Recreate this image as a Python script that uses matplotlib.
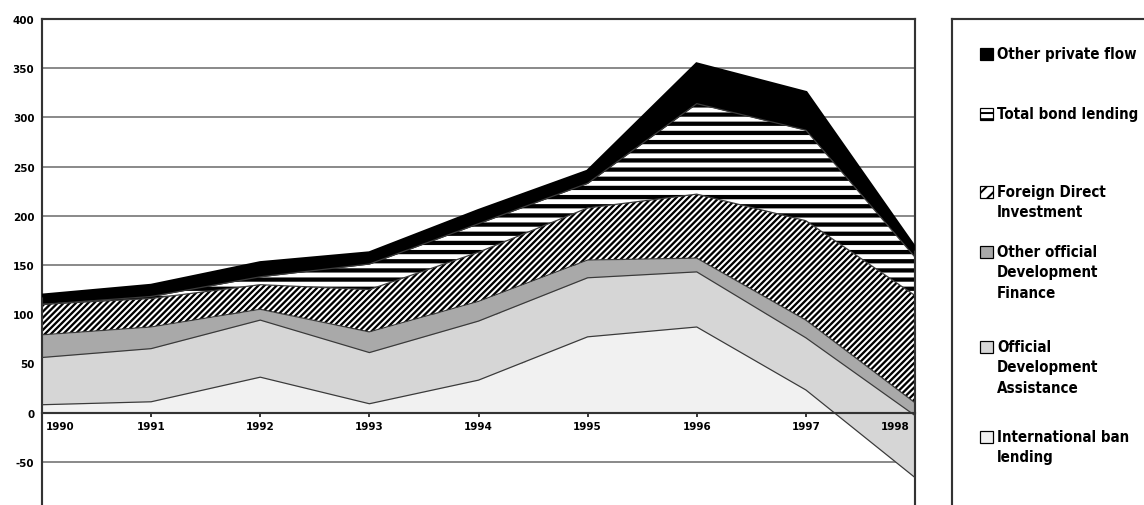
import numpy as np
import matplotlib
matplotlib.use("Agg")
import matplotlib.pyplot as plt
from matplotlib.patches import Rectangle
from matplotlib.transforms import offset_copy

# ── Data (billions) ─────────────────────────────────────────────────────────
years = [1990, 1991, 1992, 1993, 1994, 1995, 1996, 1997, 1998]
bank_lending = [8, 11, 36, 9, 33, 77, 87, 23, -66]
oda = [48, 54, 58, 52, 60, 60, 56, 53, 63]
other_official = [23, 22, 11, 21, 20, 18, 14, 18, 13]
fdi = [31, 29, 25, 43, 50, 53, 65, 101, 109]
bond_lending = [0, 2, 8, 26, 29, 25, 92, 92, 39]
other_private = [9, 11, 14, 11, 13, 12, 40, 38, 9]

series_names = ["International ban\nlending",
                "Official\nDevelopment\nAssistance",
                "Other official\nDevelopment\nFinance",
                "Foreign Direct\nInvestment",
                "Total bond lending",
                "Other private flow"]
y_ticks = [-100, -50, 0, 50, 100, 150, 200, 250, 300, 350, 400]

# fill colour, hatch, hatch line width for each layer (bottom to top)
STYLES = [("#f1f1f1", None, 1.0),
          ("#d6d6d6", None, 1.0),
          ("#a9a9a9", None, 1.0),
          ("white", "//////", 1.5),
          ("white", "--", 2.8),
          ("black", None, 1.0)]

FONT = "DejaVu Sans"
W, H, DPI = 1144, 506, 110
plt.rcParams["hatch.color"] = "black"


def set_hatch_lw(artist, lw):
    plt.rcParams["hatch.linewidth"] = lw
    if hasattr(artist, "set_hatch_linewidth"):
        artist.set_hatch_linewidth(lw)


fig = plt.figure(figsize=(W / DPI, H / DPI), dpi=DPI)

# main plot area, bottom runs past the figure edge like the source crop
ax = fig.add_axes([42 / W, 1 - 512 / H, (915 - 42) / W, (512 - 20) / H])

layers = [bank_lending, oda, other_official, fdi, bond_lending, other_private]
tops = np.cumsum(np.array(layers, dtype=float), axis=0)
base = np.zeros(len(years))
for top, (col, hatch, hlw) in zip(tops, STYLES):
    plt.rcParams["hatch.linewidth"] = hlw
    pc = ax.fill_between(years, base, top, facecolor=col, hatch=hatch,
                         edgecolor="black", linewidth=0, zorder=2)
    set_hatch_lw(pc, hlw)
    ax.plot(years, top, color="#3a3a3a", lw=0.8, zorder=3)
    base = top
# heavy outline on the top of the stack
ax.plot(years, tops[-1], color="black", lw=2.5, zorder=3,
        solid_joinstyle="miter")

ax.set_xlim(1990, 1998)
ax.set_ylim(-100, 400)
ax.set_yticks(y_ticks)
ax.set_yticklabels([str(v) for v in y_ticks], family=FONT,
                   fontweight="bold", fontstretch="condensed", fontsize=7.5)
ax.tick_params(axis="y", length=0, pad=5)
ax.yaxis.grid(True, color="#8c8c8c", lw=1.3, zorder=0)
ax.set_axisbelow(True)

ax.set_xticks(years)
ax.set_xticklabels([])
ax.tick_params(axis="x", length=5, width=1, direction="inout")
for i, yr in enumerate(years):
    dx = 0
    ha = "center"
    if i == 0:
        dx, ha = 4, "left"
    elif i == len(years) - 1:
        dx, ha = -5, "right"
    ax.text(yr, 0, str(yr), ha=ha, va="top", family=FONT, fontweight="bold",
            fontstretch="condensed", fontsize=7.5, zorder=5,
            transform=offset_copy(ax.transData, fig, x=dx, y=-8, units="dots"))

ax.spines["bottom"].set_position(("data", 0))
ax.spines["bottom"].set_zorder(4)
for s in ax.spines.values():
    s.set_color("#333333")
    s.set_linewidth(1.4)

# ── Legend box, drawn in pixel coordinates ──────────────────────────────────
lg = fig.add_axes([952 / W, 1 - 530 / H, 240 / W, (530 - 20) / H])
lg.set_xlim(952, 1192)
lg.set_ylim(530, 20)
lg.set_xticks([])
lg.set_yticks([])
for s in lg.spines.values():
    s.set_color("#333333")
    s.set_linewidth(1.4)

# first-line y of each entry, top entry first
entry_y = [55, 115, 193, 253, 348, 438]
for name, yy, (col, hatch, hlw) in zip(series_names[::-1], entry_y,
                                       STYLES[::-1]):
    icon_hatch = {"//////": "///", "--": "---"}.get(hatch, hatch)
    plt.rcParams["hatch.linewidth"] = 1.3
    r = Rectangle((980, yy - 6), 13, 12, facecolor=col, hatch=icon_hatch,
                  edgecolor="black", linewidth=0.8)
    set_hatch_lw(r, 1.3)
    lg.add_patch(r)
    lg.text(997, yy - 8, name, family=FONT, fontweight="bold",
            fontstretch="condensed", fontsize=9.8, va="top", ha="left",
            linespacing=1.45)

fig.savefig("out.png", dpi=DPI)
